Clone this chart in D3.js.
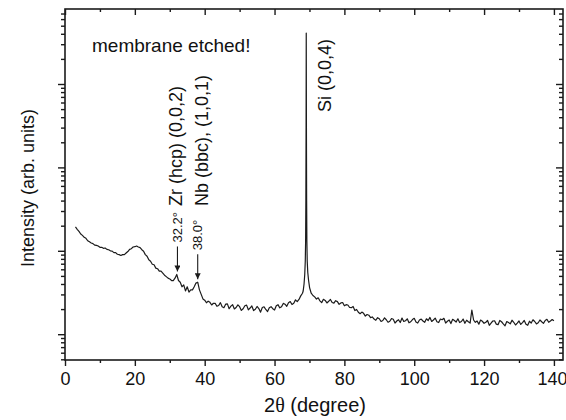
<!DOCTYPE html>
<html>
<head>
<meta charset="utf-8">
<script src="https://cdn.jsdelivr.net/npm/d3@7"></script>
<style>
  html, body { margin: 0; padding: 0; background: #fff; }
  svg { display: block; font-family: "Liberation Sans", Arial, sans-serif; }
</style>
</head>
<body>
<svg id="chart" width="566" height="420"></svg>
<script>
// XRD scan of the etched membrane: 2θ grid (degrees) and counts
const scanStart = 3.0;
const scanStep = 0.5;
const intensity = [
  193,181,171,159,153,145,141,132,128,124,
  122,117,116,114,110,110,107,108,104,103,
  100,99,95,95,91,90,88,90,90,94,
  98,104,106,111,112,114,111,109,103,99,
  90,86,78,75,69,68,62,61,57,57,
  54,51,49,47,46,44,44,47,52,44,
  42,37,39,33,37,32,34,34,37,41,
  42,34,30,26.5,25.6,23.8,24.9,24.1,22.4,23.5,
  23.4,21.6,22.1,23.9,21.3,20.8,22.9,23.1,20.2,21.7,
  22.6,20.1,20.9,22.5,21.4,19.3,20.2,21.9,22.3,19.6,
  20.6,21.8,19.2,19.9,21.5,20.3,18.4,20.9,21.3,19.8,
  18.7,20.8,21.4,20.2,19.5,21.9,22.6,20.7,21.3,23.4,
  22.9,21.6,23.8,24.6,22.7,23.5,25.8,24.6,26.1,28.8,
  31,42,900,55,36,31,29.1,28.0,26.4,27.3,
  25.1,23.9,26.2,25.4,23.7,24.8,26.1,24.0,23.6,25.2,
  24.6,22.8,23.7,24.0,21.9,22.6,22.4,20.9,20.8,21.5,
  19.2,19.8,18.3,17.6,18.4,17.8,16.5,17.2,16.9,15.8,
  16.1,15.2,14.7,15.8,15.3,14.2,14.6,15.7,14.9,13.9,
  14.3,15.4,15.1,13.6,14.4,14.9,13.8,15.6,14.2,14.5,
  15.3,13.7,14.1,15.0,15.5,14.0,13.6,14.8,15.2,14.4,
  13.9,15.3,14.6,15.9,14.2,14.8,15.6,14.1,13.8,15.2,
  14.9,15.5,13.6,14.3,14.8,13.4,15.1,14.6,14.0,15.3,
  13.8,14.2,15.2,13.5,14.7,14.1,13.6,19.5,14.8,13.9,
  14.4,13.2,14.8,14.3,13.5,13.9,14.6,12.8,13.6,14.4,
  14.5,13.2,13.0,14.6,14.1,13.3,12.6,14.2,13.8,13.3,
  14.7,13.9,12.9,13.6,14.4,13.1,13.8,14.6,13.2,12.8,
  14.3,13.6,14.9,14.2,13.3,13.7,14.8,14.1,13.5,14.6,
  15.1,13.9,14.4,15.0,14.5
];

// finely sampled Si (0,0,4) reflection [2θ, counts]
const siPeak = [
  [68.2,33],[68.45,40],[68.65,52],[68.8,75],[68.9,130],[68.97,400],
  [69.03,3000],[69.08,40900],[69.13,3000],[69.19,400],[69.26,130],
  [69.36,75],[69.52,55],[69.75,44],[70.05,36]
];

// marked reflections
const markers = [
  { angle: 32.2, label: "32.2°", phase: "Zr (hcp) (0,0,2)" },
  { angle: 38.0, label: "38.0°", phase: "Nb (bbc), (1,0,1)" }
];
const siLabel = "Si (0,0,4)";
const note = "membrane etched!";

const xTicksMajor = [0, 20, 40, 60, 80, 100, 120, 140];
const xTicksMinor = [10, 30, 50, 70, 90, 110, 130];
const yTitle = "Intensity (arb. units)";

// assemble points
const grid = intensity.map((v, i) => [scanStart + i * scanStep, v]);
const lo = siPeak[0][0], hi = siPeak[siPeak.length - 1][0];
const points = grid.filter(d => d[0] < lo || d[0] > hi).concat(siPeak)
  .sort((a, b) => a[0] - b[0]);

const svg = d3.select("#chart");
const m = { left: 65, right: 563, top: 9, bottom: 360 };

const x = d3.scaleLinear().domain([0, 142.6]).range([m.left, m.right]);
const y = d3.scaleLog().domain([4.905, 79300]).range([m.bottom, m.top]);

const ink = "#1b1b1b";

// data line
svg.append("path")
  .datum(points)
  .attr("fill", "none")
  .attr("stroke", ink)
  .attr("stroke-width", 1.2)
  .attr("stroke-linejoin", "round")
  .attr("d", d3.line().x(d => x(d[0])).y(d => y(d[1])));

// axes
const tickStyle = g => g.selectAll("line").attr("stroke", ink).attr("stroke-width", 1.4);

function xTicks(yPos, values, size, labels) {
  const g = svg.append("g").attr("transform", `translate(0,${yPos})`)
    .call(d3.axisBottom(x).tickValues(values).tickSize(size).tickPadding(6)
      .tickFormat(labels ? d3.format("d") : ""));
  g.select(".domain").remove();
  g.selectAll("text").attr("font-size", 18).attr("fill", "#111")
    .attr("font-family", "Liberation Sans, Arial, sans-serif");
  tickStyle(g);
  return g;
}
const xLabels = xTicks(m.bottom, xTicksMajor, 6, true);
// keep the last label inside the canvas
xLabels.selectAll("text").filter(d => d === 140).attr("dx", -2);
xTicks(m.bottom, xTicksMinor, 3, false);
xTicks(m.top, xTicksMajor, 6, false);
xTicks(m.top, xTicksMinor, 3, false);

// log ticks on left (outward) and right (inward)
const decades = [1, 10, 100, 1000, 10000];
const yMajor = decades.filter(v => v >= y.domain()[0] && v <= y.domain()[1]);
const yMinor = [];
decades.forEach(dv => {
  for (let k = 2; k <= 9; k++) {
    const v = dv * k;
    if (v > y.domain()[0] && v < y.domain()[1]) yMinor.push(v);
  }
});

function yTicks(xPos, values, size) {
  const g = svg.append("g").attr("transform", `translate(${xPos},0)`)
    .call(d3.axisLeft(y).tickValues(values).tickSize(size).tickFormat(""));
  g.select(".domain").remove();
  tickStyle(g);
}
yTicks(m.left, yMajor, 7);
yTicks(m.left, yMinor, 4);
yTicks(m.right, yMajor, 7);
yTicks(m.right, yMinor, 4);

// frame
svg.append("rect")
  .attr("x", m.left).attr("y", m.top)
  .attr("width", m.right - m.left).attr("height", m.bottom - m.top)
  .attr("fill", "none").attr("stroke", ink).attr("stroke-width", 1.6);

// axis titles
const xt = svg.append("text")
  .attr("x", (m.left + m.right) / 2 + 1).attr("y", 412)
  .attr("text-anchor", "middle").attr("font-size", 20).attr("fill", "#111");
xt.append("tspan").text("2");
xt.append("tspan").attr("font-family", "Liberation Serif, serif").text("θ");
xt.append("tspan").text(" (degree)");

svg.append("text")
  .attr("transform", "translate(34,188) rotate(-90)")
  .attr("text-anchor", "middle").attr("font-size", 18).attr("fill", "#111")
  .text(yTitle);

// note
svg.append("text")
  .attr("x", 92).attr("y", 52)
  .attr("font-size", 19).attr("fill", "#111")
  .text(note);

// arrows and labels for the marked reflections
const valueAt = a => {
  const i = d3.bisector(d => d[0]).center(points, a);
  return points[i][1];
};
const defs = svg.append("defs");
defs.append("marker")
  .attr("id", "head").attr("viewBox", "0 0 10 10")
  .attr("refX", 10).attr("refY", 5)
  .attr("markerWidth", 6).attr("markerHeight", 6)
  .attr("markerUnits", "userSpaceOnUse")
  .attr("orient", "auto")
  .append("path").attr("d", "M0,0 L10,5 L0,10 Z").attr("fill", ink);

const phaseOffsets = [-2, 4];
markers.forEach((mk, i) => {
  const ax = x(mk.angle);
  const tip = y(valueAt(mk.angle)) - 3;
  const tail = tip - 25;
  svg.append("line")
    .attr("x1", ax).attr("x2", ax)
    .attr("y1", tail).attr("y2", tip)
    .attr("stroke", ink).attr("stroke-width", 1.1)
    .attr("marker-end", "url(#head)");
  svg.append("text")
    .attr("transform", `translate(${ax},${tail - 4}) rotate(-90)`)
    .attr("dy", "0.36em")
    .attr("font-size", 13).attr("fill", "#111")
    .text(mk.label);
  svg.append("text")
    .attr("transform", `translate(${ax + phaseOffsets[i]},206) rotate(-90)`)
    .attr("dy", "0.36em")
    .attr("font-size", 18).attr("fill", "#111")
    .text(mk.phase);
});

svg.append("text")
  .attr("transform", `translate(${x(69.08) + 18},112) rotate(-90)`)
  .attr("dy", "0.36em")
  .attr("font-size", 18).attr("fill", "#111")
  .text(siLabel);
</script>
</body>
</html>
